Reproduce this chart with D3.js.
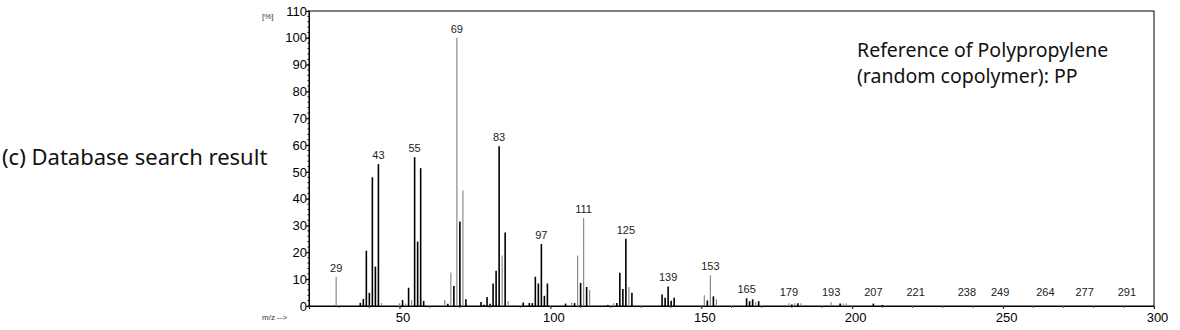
<!DOCTYPE html>
<html><head><meta charset="utf-8">
<script src="https://cdn.jsdelivr.net/npm/d3@7/dist/d3.min.js"></script>
<style>body{margin:0;background:#fff;}svg{display:block;}</style>
</head><body>
<svg id="c" width="1180" height="330"></svg>
<script>
// m/z values of the peaks
const mzValues = [29,37,38,39,40,41,42,43,44,50,51,52,53,54,55,56,57,58,65,66,67,68,69,70,71,72,
  77,78,79,80,81,82,83,84,85,86,91,93,94,95,96,97,98,99,105,107,108,109,110,111,112,113,
  119,121,122,123,124,125,126,127,128,137,138,139,140,141,151,152,153,154,155,
  165,166,167,168,169,179,180,181,182,183,193,196,197,198,207,210,221,238,249,264,277,291];
// relative intensity [%]
const intensities = [10.9,1.2,2.6,20.6,4.9,48,14.7,52.9,1.1,1.0,2.2,0.9,6.8,2.2,55.5,24,51.4,1.9,2.2,0.8,12.5,7.5,100,31.5,43.1,2.5,
  1.5,0.5,3.4,0.8,8.4,13.1,59.6,18.8,27.4,1.9,1.3,1.1,1.1,10.9,8.4,23.1,3.8,8.4,0.9,1.3,1.1,18.8,8.6,32.8,7.1,6.0,
  0.4,1.0,1.1,12.4,6.3,25.1,7.1,4.9,0.4,4.3,3.1,7.3,2.0,3.1,4.0,2.1,11.5,3.6,2.5,
  2.9,1.8,2.5,1.4,1.8,1.0,0.6,1.0,1.0,1.0,1.4,0.9,0.9,0.9,0.9,0.4,0.4,0.5,0.5,0.3,0.4,0.3];
// bar shade: k = black, g = gray
const shades = ["g","k","k","k","k","k","k","k","g","g","k","g","k","g","k","k","k","k","g","k","g","k","g","k","g","k",
  "k","k","k","k","k","k","k","g","k","g","k","k","k","k","k","k","k","k","k","g","k","g","k","g","k","g",
  "k","g","k","k","k","k","g","k","g","k","k","k","k","k","g","k","g","k","g",
  "k","k","k","g","k","g","k","g","k","g","g","k","g","g","k","k","g","g","g","g","g","g"];
// annotated peaks
const labelledPeaks = [29,43,55,69,83,97,111,125,139,153,165,179,193,207,221,238,249,264,277,291];
const yTicks = [0,10,20,30,40,50,60,70,80,90,100,110];
const xTicks = [50,100,150,200,250,300];
const titleLeft = "(c) Database search result";
const titleRight = ["Reference of Polypropylene","(random copolymer): PP"];

const svg = d3.select("#c");
const x = d3.scaleLinear().domain([20,300]).range([309,1154]);
const y = d3.scaleLinear().domain([0,110]).range([306,11]);
const peaks = mzValues.map((m,i)=>({mz:m, v:intensities[i], s:shades[i]}));
const axisFont = "Liberation Sans, Arial, sans-serif";

// frame
svg.append("rect").attr("x",x(20)).attr("y",y(110)).attr("width",x(300)-x(20)).attr("height",y(0)-y(110))
  .attr("fill","none").attr("stroke","#000").attr("stroke-width",1);
// y axis
const yAxis = svg.append("g").attr("transform",`translate(${x(20)},0)`)
  .call(d3.axisLeft(y).tickValues(yTicks).tickSize(3).tickFormat(d3.format("d")));
yAxis.select(".domain").attr("stroke","#000");
yAxis.selectAll("text").attr("font-family",axisFont).attr("font-size",13).attr("x",-2).attr("fill","#000");
// minor y ticks
svg.append("g").selectAll("line").data(d3.range(0,111,2)).join("line")
  .attr("x1",x(20)-1.5).attr("x2",x(20)).attr("y1",d=>y(d)).attr("y2",d=>y(d)).attr("stroke","#000");
// x axis
const xAxis = svg.append("g").attr("transform",`translate(0,${y(0)})`)
  .call(d3.axisBottom(x).tickValues(xTicks).tickSize(3).tickFormat(d3.format("d")));
xAxis.select(".domain").attr("stroke","#000");
xAxis.selectAll("text").attr("font-family",axisFont).attr("font-size",13).attr("dy","0.8em").attr("dx",3).attr("fill","#000");
svg.append("g").selectAll("line").data(d3.range(20,301,10)).join("line")
  .attr("x1",d=>x(d)).attr("x2",d=>x(d)).attr("y1",y(0)).attr("y2",y(0)+2).attr("stroke","#555");

// bars
svg.append("g").selectAll("line").data(peaks).join("line")
  .attr("x1",d=>x(d.mz)).attr("x2",d=>x(d.mz)).attr("y1",y(0)).attr("y2",d=>y(d.v))
  .attr("stroke",d=>d.s==="k"?"#000":"#8a8a8a").attr("stroke-width",d=>d.s==="k"?1.6:1.2);

// peak labels
svg.append("g").selectAll("text").data(peaks.filter(p=>labelledPeaks.includes(p.mz))).join("text")
  .attr("x",d=>x(d.mz)).attr("y",d=>Math.min(y(d.v)-5, y(1.8)-5))
  .attr("text-anchor","middle").attr("font-family",axisFont).attr("font-size",11)
  .attr("fill","#222").text(d=>d.mz);

// axis unit labels
svg.append("text").attr("x",262).attr("y",19).attr("font-family",axisFont).attr("font-size",8).attr("fill","#333").text("[%]");
svg.append("text").attr("x",262).attr("y",320).attr("font-family",axisFont).attr("font-size",8).attr("fill","#333").text("m/z -->");

// titles
svg.append("text").attr("x",2).attr("y",165).attr("font-family","Noto Sans, Open Sans, sans-serif").attr("font-size",22).attr("fill","#111").text(titleLeft);
svg.append("g").selectAll("text").data(titleRight).join("text")
  .attr("x",857).attr("y",(d,i)=>57+i*25.5).attr("font-family","Noto Sans, Open Sans, sans-serif").attr("font-size",19.5).attr("fill","#111").text(d=>d);
</script>
</body></html>
